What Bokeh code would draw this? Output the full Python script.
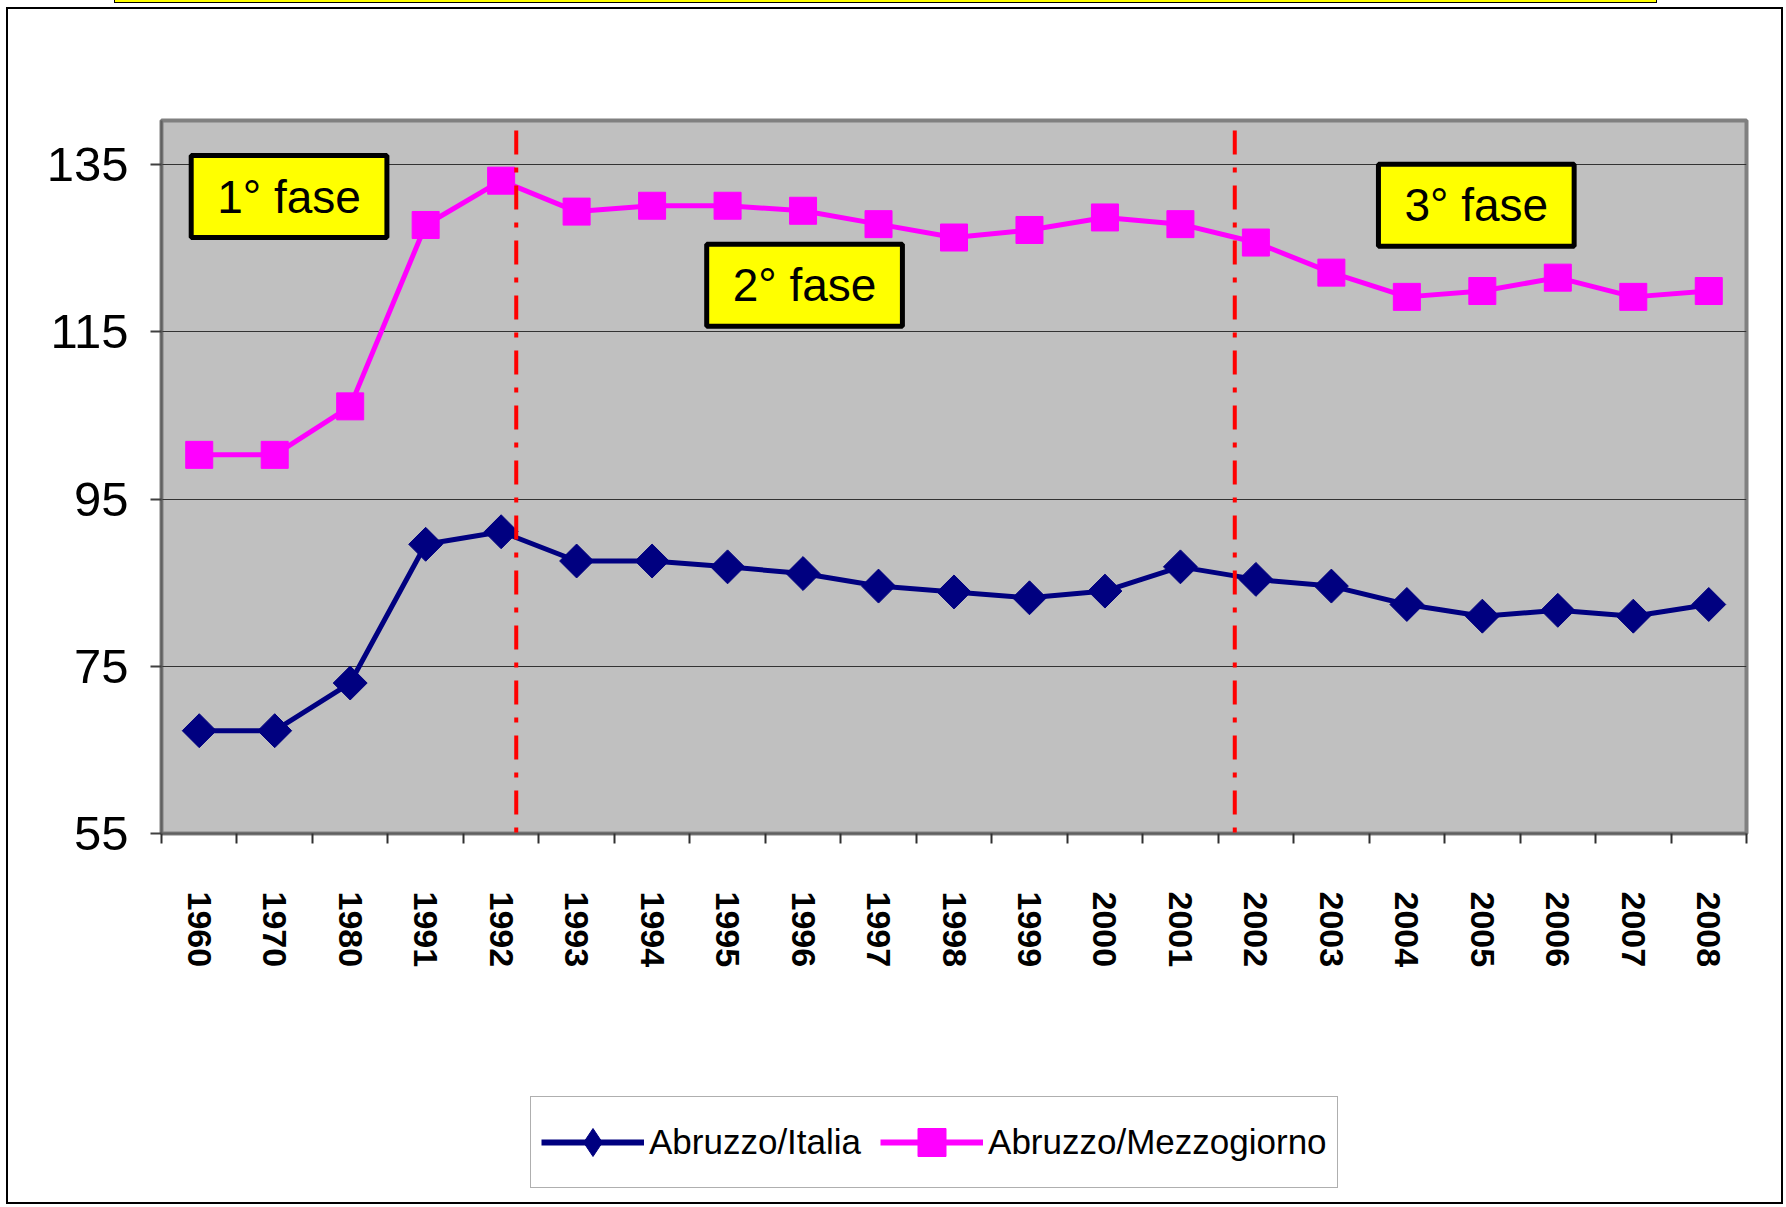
import numpy as np
from bokeh.plotting import figure
from bokeh.layouts import column
from bokeh.models import Range1d, FixedTicker, Label, Legend, LegendItem, Arrow, Div
from bokeh.embed import file_html
from bokeh.resources import INLINE

# ---------------- data ----------------
years = ["1960", "1970", "1980", "1991", "1992", "1993", "1994", "1995", "1996",
         "1997", "1998", "1999", "2000", "2001", "2002", "2003", "2004", "2005",
         "2006", "2007", "2008"]
abruzzo_italia = [67.3, 67.3, 73.0, 89.6, 91.1, 87.6, 87.6, 86.9, 86.1, 84.6, 83.9,
                  83.2, 84.0, 86.9, 85.4, 84.6, 82.4, 81.0, 81.7, 81.0, 82.4]
abruzzo_mezzogiorno = [100.3, 100.3, 106.1, 127.8, 133.1, 129.4, 130.1, 130.1, 129.5,
                       127.9, 126.3, 127.2, 128.7, 127.9, 125.7, 122.1, 119.2, 119.9,
                       121.5, 119.2, 119.9]
y_ticks = [55, 75, 95, 115, 135]
series_names = ["Abruzzo/Italia", "Abruzzo/Mezzogiorno"]
phase_texts = ["1° fase", "2° fase", "3° fase"]

# ---------------- layout / style ----------------
NAVY = "#000080"
MAGENTA = "#FF00FF"
n = len(years)
xc = [i + 0.5 for i in range(n)]

p = figure(width=1773, height=1031, output_backend="svg", toolbar_location=None,
           x_range=Range1d(0, n), y_range=Range1d(55, 140.3),
           min_border_left=153, min_border_right=35, min_border_top=111,
           min_border_bottom=207)
p.background_fill_color = "#C0C0C0"
p.border_fill_color = "white"
p.outline_line_color = "#808080"
p.outline_line_width = 4

# y axis
p.yaxis.ticker = FixedTicker(ticks=y_ticks)
p.yaxis.major_label_text_font = "Liberation Sans"
p.yaxis.major_label_text_font_size = "49px"
p.yaxis.major_label_text_color = "black"
p.yaxis.major_tick_out = 11
p.yaxis.major_tick_in = 0
p.yaxis.minor_tick_out = 0
p.yaxis.minor_tick_in = 0
p.yaxis.major_label_standoff = 22
p.yaxis.axis_line_color = "#606060"
p.yaxis.axis_line_width = 2
p.yaxis.major_tick_line_color = "#404040"
p.yaxis.major_tick_line_width = 2

# x axis
p.xaxis.ticker = FixedTicker(ticks=xc, minor_ticks=list(range(n + 1)))
p.xaxis.major_label_overrides = {x: y for x, y in zip(xc, years)}
p.xaxis.major_label_orientation = "vertical"
p.xaxis.major_label_text_font = "Liberation Sans"
p.xaxis.major_label_text_font_style = "bold"
p.xaxis.major_label_text_font_size = "34px"
p.xaxis.major_label_text_color = "black"
p.xaxis.major_tick_out = 0
p.xaxis.major_tick_in = 0
p.xaxis.minor_tick_out = 10
p.xaxis.minor_tick_in = 0
p.xaxis.minor_tick_line_color = "#303030"
p.xaxis.minor_tick_line_width = 2
p.xaxis.major_label_standoff = 48
p.xaxis.axis_line_color = "#606060"
p.xaxis.axis_line_width = 2

p.xgrid.grid_line_color = None
p.ygrid.ticker = FixedTicker(ticks=y_ticks)
p.ygrid.grid_line_color = "#333333"
p.ygrid.grid_line_width = 1

# phase separators (red dash-dot)
for xs in (4.70, 14.22):
    p.add_layout(Arrow(end=None, x_start=xs, y_start=50.7, x_end=xs, y_end=141.0,
                       line_color="#FF0000", line_width=4, line_dash="24 13 5 13"))

# series
p.line(xc, abruzzo_italia, line_color=NAVY, line_width=5)
p.scatter(xc, abruzzo_italia, marker="square", angle=np.pi / 4, size=24,
          fill_color=NAVY, line_color=NAVY)
p.line(xc, abruzzo_mezzogiorno, line_color=MAGENTA, line_width=5)
p.scatter(xc, abruzzo_mezzogiorno, marker="square", size=27,
          fill_color=MAGENTA, line_color=MAGENTA)

# phase boxes
phase_pos = [(1.69, 131.2), (8.52, 120.6), (17.42, 130.15)]
for t, (lx, ly) in zip(phase_texts, phase_pos):
    p.add_layout(Label(x=lx, y=ly, text=t, text_align="center", text_baseline="middle",
                       text_font="Liberation Sans", text_font_size="46px",
                       text_color="black", background_fill_color="#FFFF00",
                       border_line_color="black", border_line_width=5,
                       padding={"left": 26, "right": 26, "top": 15, "bottom": 15}))

# ---------------- legend panel (series drawn off-range, only legend visible) ----------------
p2 = figure(width=1773, height=162, output_backend="svg", toolbar_location=None,
            x_range=Range1d(-2, -1), y_range=Range1d(-2, -1), x_axis_type=None,
            y_axis_type=None, min_border_left=153, min_border_right=35,
            min_border_top=0, min_border_bottom=0)
p2.outline_line_color = None
p2.grid.visible = False
p2.background_fill_color = "white"
p2.border_fill_color = "white"
lg1 = p2.line(xc, abruzzo_italia, line_color=NAVY, line_width=6)
lm1 = p2.scatter(xc, abruzzo_italia, marker="diamond", size=30,
                 fill_color=NAVY, line_color=NAVY)
lg2 = p2.line(xc, abruzzo_mezzogiorno, line_color=MAGENTA, line_width=6)
lm2 = p2.scatter(xc, abruzzo_mezzogiorno, marker="square", size=22,
                 fill_color=MAGENTA, line_color=MAGENTA)

legend = Legend(items=[LegendItem(label=series_names[0], renderers=[lg1, lm1]),
                       LegendItem(label=series_names[1], renderers=[lg2, lm2])],
                location=(369, 14), orientation="horizontal",
                label_text_font="Liberation Sans", label_text_font_size="35px",
                label_text_color="black", glyph_width=103, glyph_height=70,
                label_standoff=5, spacing=19, padding=10, label_height=58,
                border_line_color="#606060", border_line_width=1,
                background_fill_color="white", background_fill_alpha=1)
p2.add_layout(legend, "center")

strip = Div(text="", width=1543, height=3, margin=(0, 0, 4, 114),
            styles={"background-color": "#FFFF00", "border-bottom": "1px solid black",
                    "border-left": "1px solid black", "border-right": "1px solid black",
                    "box-sizing": "border-box"})
box = column(p, p2, spacing=0, margin=(0, 0, 0, 6),
             styles={"border": "2px solid black"})
layout = column(strip, box, spacing=0, margin=0)

open("out.html", "w").write(file_html(layout, INLINE))
